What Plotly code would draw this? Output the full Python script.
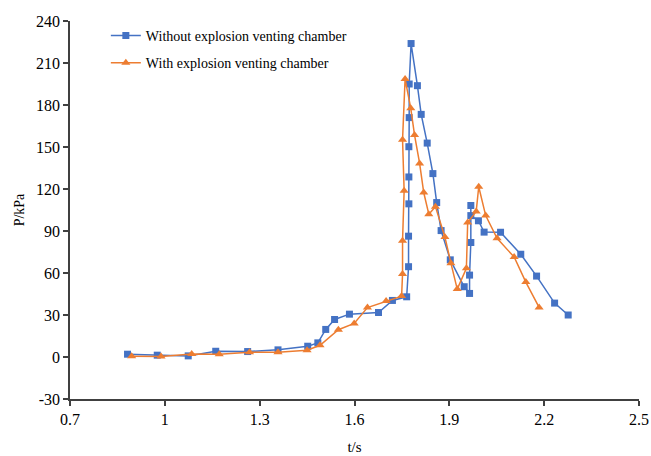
import plotly.graph_objects as go

# Pressure history, without the explosion venting chamber
t_without = [0.882, 0.976, 1.074, 1.161, 1.262, 1.358, 1.452, 1.484, 1.509, 1.537,
             1.584, 1.676, 1.720, 1.765, 1.771, 1.771, 1.772, 1.772, 1.772, 1.773,
             1.773, 1.779, 1.799, 1.811, 1.830, 1.848, 1.860, 1.874, 1.903, 1.947,
             1.964, 1.964, 1.968, 1.968, 1.968, 1.992, 2.010, 2.062, 2.126, 2.176,
             2.233, 2.276]
p_without = [2.0, 1.3, 0.8, 4.1, 3.9, 5.1, 7.7, 10.1, 19.7, 26.8,
             30.6, 31.8, 40.4, 43.0, 64.5, 86.3, 109.4, 128.6, 150.2, 171.0,
             195.0, 223.9, 193.8, 173.3, 152.8, 131.0, 110.3, 90.3, 69.4, 50.2,
             45.4, 58.5, 81.8, 108.2, 101.0, 97.3, 89.2, 89.1, 73.4, 57.8,
             38.5, 30.0]

# Pressure history, with the explosion venting chamber
t_with = [0.895, 0.988, 1.085, 1.172, 1.268, 1.358, 1.450, 1.491, 1.549, 1.599,
          1.641, 1.700, 1.749, 1.752, 1.752, 1.757, 1.752, 1.760, 1.778, 1.790,
          1.806, 1.819, 1.835, 1.856, 1.886, 1.905, 1.925, 1.954, 1.958, 1.985,
          1.993, 2.015, 2.051, 2.105, 2.142, 2.184]
p_with = [0.6, 0.4, 2.2, 2.0, 3.4, 3.4, 4.9, 8.4, 19.5, 24.0,
          35.3, 40.0, 43.5, 59.3, 83.1, 118.7, 155.2, 198.6, 177.6, 158.5,
          138.3, 117.5, 102.0, 107.4, 85.7, 67.0, 48.5, 63.4, 96.0, 104.0,
          121.6, 101.0, 84.8, 71.4, 53.5, 35.4]

x_ticks = [0.7, 1.0, 1.3, 1.6, 1.9, 2.2, 2.5]
x_tick_text = ["0.7", "1", "1.3", "1.6", "1.9", "2.2", "2.5"]
y_ticks = [-30, 0, 30, 60, 90, 120, 150, 180, 210, 240]
y_tick_text = ["-30", "0", "30", "60", "90", "120", "150", "180", "210", "240"]

FONT = "Liberation Serif, Times New Roman, serif"
BLUE = "#4472C4"
ORANGE = "#ED7D31"
AXIS = "#404040"

fig = go.Figure()
fig.add_trace(go.Scatter(
    x=t_without, y=p_without, mode="lines+markers",
    name="Without explosion venting chamber", legendgroup="a",
    line=dict(color=BLUE, width=1.5),
    marker=dict(symbol="square", size=7, color=BLUE),
))
fig.add_trace(go.Scatter(
    x=t_with, y=p_with, mode="lines+markers",
    name="With explosion venting chamber", legendgroup="b",
    line=dict(color=ORANGE, width=1.5),
    marker=dict(symbol="triangle-up", size=8, color=ORANGE),
))

fig.update_layout(
    width=651, height=456,
    margin=dict(l=70, r=12, t=21, b=57),
    paper_bgcolor="white", plot_bgcolor="white",
    font=dict(family=FONT, size=16, color="black"),
    legend=dict(
        x=0.063, y=1.003, xanchor="left", yanchor="top",
        bgcolor="rgba(0,0,0,0)", font=dict(size=14, family=FONT),
        traceorder="grouped", tracegroupgap=6,
    ),
    xaxis=dict(
        range=[0.7, 2.5], tickvals=x_ticks, ticktext=x_tick_text,
        showgrid=False, zeroline=False, automargin=False,
        showline=True, linecolor=AXIS, linewidth=1.5,
        ticks="outside", ticklen=5, tickcolor=AXIS, tickwidth=1.5,
        title=dict(text="t/s", font=dict(size=15), standoff=15),
    ),
    yaxis=dict(
        range=[-30, 240], tickvals=y_ticks, ticktext=y_tick_text,
        showgrid=False, zeroline=False, automargin=False,
        showline=True, linecolor=AXIS, linewidth=1.5,
        ticks="outside", ticklen=5, tickcolor=AXIS, tickwidth=1.5,
        title=dict(text="P/kPa", font=dict(size=14), standoff=8),
    ),
)

fig.write_html("out.html")
